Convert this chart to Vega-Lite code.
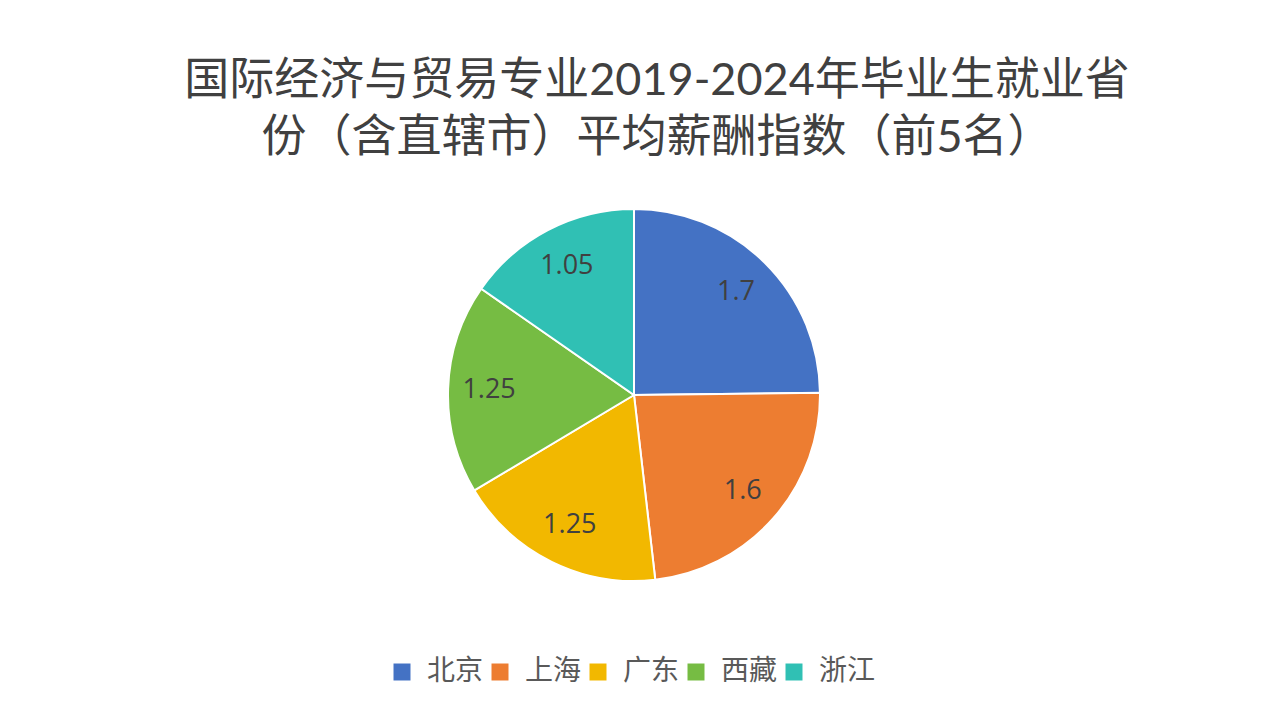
{
  "$schema": "https://vega.github.io/schema/vega-lite/v6.json",
  "autosize": "none",
  "width": 1268,
  "height": 372,
  "padding": {"left": 0, "top": 209, "right": 4, "bottom": 138},
  "background": "white",
  "config": {"view": {"stroke": null}},
  "title": {
    "text": ["国际经济与贸易专业2019-2024年毕业生就业省", "份（含直辖市）平均薪酬指数（前5名）"],
    "font": "Lato, Noto Sans CJK SC",
    "fontSize": 45,
    "fontWeight": 400,
    "color": "#404040",
    "lineHeight": 57,
    "anchor": "middle",
    "dx": 23,
    "offset": 44
  },
  "data": {
    "values": [
      {"province": "北京", "index": 1.7, "rank": 1},
      {"province": "上海", "index": 1.6, "rank": 2},
      {"province": "广东", "index": 1.25, "rank": 3},
      {"province": "西藏", "index": 1.25, "rank": 4},
      {"province": "浙江", "index": 1.05, "rank": 5}
    ]
  },
  "encoding": {
    "theta": {"field": "index", "type": "quantitative", "stack": true},
    "order": {"field": "rank", "type": "ordinal"}
  },
  "layer": [
    {
      "mark": {"type": "arc", "outerRadius": 186, "stroke": "white", "strokeWidth": 2},
      "encoding": {
        "color": {
          "field": "province",
          "type": "nominal",
          "scale": {
            "domain": ["北京", "上海", "广东", "西藏", "浙江"],
            "range": ["#4472C4", "#ED7D31", "#F2B800", "#76BC43", "#30C0B4"]
          },
          "legend": {
            "orient": "none",
            "legendX": 388,
            "legendY": 449,
            "direction": "horizontal",
            "title": null,
            "symbolType": "square",
            "symbolSize": 289,
            "symbolStrokeWidth": 0,
            "labelFont": "Noto Sans CJK SC",
            "labelFontSize": 28,
            "labelColor": "#595959",
            "columnPadding": 2,
            "labelOffset": 11
          }
        }
      }
    },
    {
      "mark": {"type": "text", "radius": 145, "font": "Open Sans", "fontSize": 27, "color": "#404040"},
      "encoding": {"text": {"field": "index", "type": "quantitative"}}
    }
  ]
}
